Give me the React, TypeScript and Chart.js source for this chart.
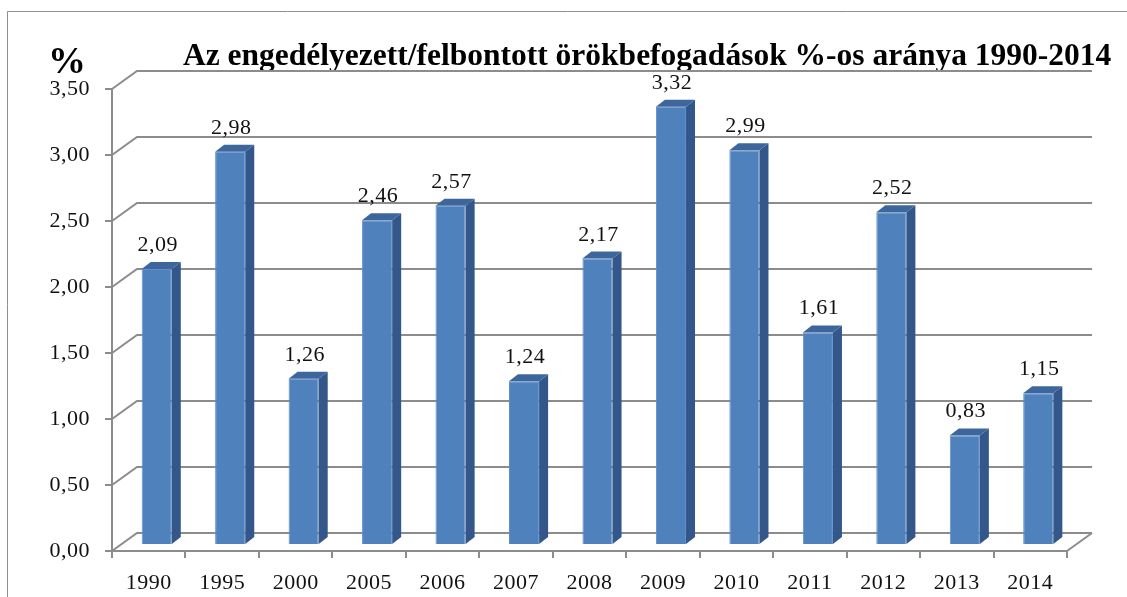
import React, { useEffect, useRef } from 'react';
import { Chart, registerables } from 'chart.js';

Chart.register(...registerables);

const categories = ['1990', '1995', '2000', '2005', '2006', '2007', '2008', '2009', '2010', '2011', '2012', '2013', '2014'];
const values = [2.09, 2.98, 1.26, 2.46, 2.57, 1.24, 2.17, 3.32, 2.99, 1.61, 2.52, 0.83, 1.15];
const yMin = 0;
const yMax = 3.5;
const yStep = 0.5;
const titleText = 'Az engedélyezett/felbontott örökbefogadások %-os aránya 1990-2014';
const unitText = '%';

const fmt = (v: number) => v.toFixed(2).replace('.', ',');

const FONT = '"Liberation Serif", "Times New Roman", serif';
const GRID = '#8c8c8c';
const FRONT = '#4f81bd';
const SIDE = '#33578a';
const TOP = '#3d679c';
const WALL_DX = 25;
const WALL_DY = -18;
const BAR_DX = 8;
const BAR_DY = -6;
const SIDE_DX = 9;
const SIDE_DY = -7;

const threeD = {
  id: 'threeD',
  beforeDraw(chart: any) {
    const ctx = chart.ctx;
    ctx.letterSpacing = '0.5px';
    ctx.save();
    ctx.letterSpacing = '0px';
    ctx.fillStyle = '#ffffff';
    ctx.fillRect(0, 0, chart.width, chart.height);
    ctx.strokeStyle = '#8f8f8f';
    ctx.lineWidth = 1;
    ctx.beginPath();
    ctx.moveTo(7.5, chart.height);
    ctx.lineTo(7.5, 11.5);
    ctx.lineTo(chart.width, 11.5);
    ctx.stroke();
    ctx.fillStyle = '#000000';
    ctx.textBaseline = 'alphabetic';
    ctx.textAlign = 'left';
    ctx.font = `bold 38px ${FONT}`;
    ctx.fillText(unitText, 48, 73);
    ctx.font = `bold 31.5px ${FONT}`;
    ctx.fillText(titleText, 183, 65);
    ctx.restore();
  },
  beforeDatasetsDraw(chart: any) {
    const ctx = chart.ctx;
    const a = chart.chartArea;
    const y = chart.scales.y;
    ctx.save();
    ctx.strokeStyle = GRID;
    ctx.lineWidth = 2;
    y.ticks.forEach((t: any) => {
      const py = y.getPixelForValue(t.value);
      ctx.beginPath();
      ctx.moveTo(a.left, py);
      ctx.lineTo(a.left + WALL_DX, py + WALL_DY);
      ctx.lineTo(a.right + WALL_DX, py + WALL_DY);
      ctx.stroke();
    });
    const by = y.getPixelForValue(yMin);
    ctx.beginPath();
    ctx.moveTo(a.right, by);
    ctx.lineTo(a.right + WALL_DX, by + WALL_DY);
    ctx.stroke();
    ctx.restore();
    ctx.save();
    ctx.translate(BAR_DX, BAR_DY);
  },
  afterDatasetsDraw(chart: any) {
    const ctx = chart.ctx;
    const meta = chart.getDatasetMeta(0);
    meta.data.forEach((bar: any, i: number) => {
      const { x, y, base, width } = bar.getProps(['x', 'y', 'base', 'width'], true);
      const l = x - width / 2;
      const r = x + width / 2;
      ctx.fillStyle = SIDE;
      ctx.beginPath();
      ctx.moveTo(r, y);
      ctx.lineTo(r + SIDE_DX, y + SIDE_DY);
      ctx.lineTo(r + SIDE_DX, base + SIDE_DY);
      ctx.lineTo(r, base);
      ctx.closePath();
      ctx.fill();
      ctx.fillStyle = TOP;
      ctx.beginPath();
      ctx.moveTo(l, y);
      ctx.lineTo(l + SIDE_DX, y + SIDE_DY);
      ctx.lineTo(r + SIDE_DX, y + SIDE_DY);
      ctx.lineTo(r, y);
      ctx.closePath();
      ctx.fill();
      ctx.fillStyle = '#111111';
      ctx.font = `22px ${FONT}`;
      ctx.textAlign = 'center';
      ctx.textBaseline = 'alphabetic';
      ctx.fillText(fmt(values[i]), x + 1, y + SIDE_DY - 11);
    });
    ctx.restore();
  },
};

export default function App() {
  const ref = useRef<HTMLCanvasElement>(null);
  useEffect(() => {
    if (!ref.current) return;
    const chart = new Chart(ref.current, {
      type: 'bar',
      data: {
        labels: categories,
        datasets: [
          {
            data: values,
            backgroundColor: FRONT,
            borderColor: '#5d8fcb',
            borderWidth: 1,
            barPercentage: 0.41,
            categoryPercentage: 1,
            clip: false as any,
          },
        ],
      },
      options: {
        responsive: false,
        animation: false,
        devicePixelRatio: 1,
        layout: { padding: { top: 89, right: 60, left: 0, bottom: 0 } },
        plugins: { legend: { display: false }, tooltip: { enabled: false }, title: { display: false } },
        scales: {
          x: {
            afterFit: (s: any) => {
              s.height = 46;
            },
            grid: { display: true, drawOnChartArea: false, drawTicks: true, tickLength: 7, color: GRID, lineWidth: 2, offset: true },
            border: { display: true, color: GRID, width: 2 },
            ticks: { color: '#111111', font: { family: FONT, size: 22 }, padding: 12, autoSkip: false, maxRotation: 0 },
          },
          y: {
            min: yMin,
            max: yMax,
            afterFit: (s: any) => {
              s.width = 112;
            },
            grid: { display: true, drawOnChartArea: false, drawTicks: true, tickLength: 7, color: GRID, lineWidth: 2 },
            border: { display: true, color: GRID, width: 2 },
            ticks: {
              stepSize: yStep,
              color: '#111111',
              font: { family: FONT, size: 22 },
              padding: 15,
              callback: (v: any) => fmt(Number(v)),
            },
          },
        },
      },
      plugins: [threeD],
    });
    return () => chart.destroy();
  }, []);
  return (
    <div style={{ position: 'fixed', left: 0, top: 0, width: 1127, height: 597, background: '#fff' }}>
      <canvas ref={ref} width={1127} height={597} style={{ width: 1127, height: 597, display: 'block' }} />
    </div>
  );
}
